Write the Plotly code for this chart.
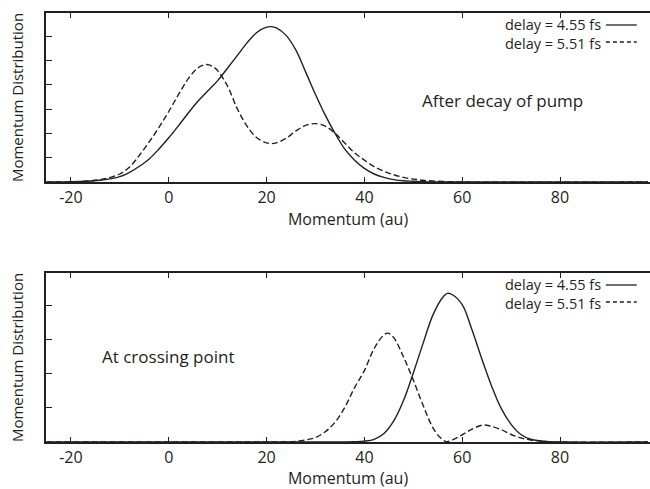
import plotly.graph_objects as go
from plotly.subplots import make_subplots

# ---- data ----
x_top_a = [-25, -22, -20, -18, -16, -14, -12, -10, -8, -6, -4, -2, 0, 2, 4, 6, 8, 10, 12, 14, 16, 18, 20, 21, 22, 24, 26, 28, 30, 32, 34, 36, 38, 40, 42, 44, 46, 48, 50, 52, 55, 60, 98]
y_top_a = [0, 0.005, 0.01, 0.02, 0.04, 0.07, 0.13, 0.22, 0.4, 0.65, 0.95, 1.36, 1.82, 2.32, 2.84, 3.33, 3.75, 4.17, 4.68, 5.2, 5.72, 6.15, 6.37, 6.39, 6.34, 6.03, 5.42, 4.52, 3.6, 2.75, 2.0, 1.35, 0.9, 0.56, 0.33, 0.19, 0.1, 0.05, 0.03, 0.01, 0, 0, 0]

x_top_b = [-25, -22, -20, -18, -16, -14, -12, -10, -8, -6, -4, -2, 0, 2, 4, 6, 7.7, 9, 10, 12, 14, 16, 18, 20, 21, 22, 24, 26, 28, 30, 32, 34, 36, 38, 40, 42, 44, 46, 48, 50, 52, 55, 58, 60, 98]
y_top_b = [0, 0.005, 0.01, 0.02, 0.05, 0.1, 0.19, 0.33, 0.62, 1.1, 1.65, 2.25, 2.9, 3.6, 4.25, 4.7, 4.83, 4.75, 4.58, 3.95, 3.02, 2.3, 1.82, 1.61, 1.58, 1.61, 1.8, 2.1, 2.33, 2.4, 2.3, 2.0, 1.6, 1.2, 0.9, 0.63, 0.44, 0.3, 0.19, 0.12, 0.07, 0.03, 0.01, 0, 0]

x_bot_a = [-25, 34, 36, 38, 40, 42, 44, 46, 48, 50, 52, 54, 56, 57, 58, 60, 62, 64, 66, 68, 70, 72, 74, 76, 78, 80, 98]
y_bot_a = [0, 0, 0.002, 0.008, 0.025, 0.08, 0.25, 0.62, 1.22, 2.03, 2.9, 3.73, 4.25, 4.37, 4.33, 4.04, 3.3, 2.45, 1.65, 0.98, 0.52, 0.22, 0.08, 0.03, 0.01, 0, 0]

x_bot_b = [-25, 18, 20, 22, 24, 26, 28, 30, 32, 34, 36, 38, 40, 42, 44, 44.8, 46, 48, 50, 52, 54, 55.5, 56.8, 58, 60, 62, 64.3, 66, 68, 70, 72, 74, 76, 78, 80, 98]
y_bot_b = [0, 0, 0.002, 0.005, 0.01, 0.02, 0.06, 0.13, 0.3, 0.58, 1.02, 1.6, 2.1, 2.75, 3.15, 3.2, 3.07, 2.5, 1.82, 1.08, 0.42, 0.13, 0.01, 0.06, 0.21, 0.38, 0.5, 0.46, 0.36, 0.22, 0.12, 0.06, 0.03, 0.01, 0, 0]

series_names = ["delay = 4.55 fs", "delay = 5.51 fs"]
panel_labels = ["After decay of pump", "At crossing point"]
x_ticks = [-20, 0, 20, 40, 60, 80]
x_tick_text = ["-20", "0", "20", "40", "60", "80"]
y_ticks_top = [1, 2, 3, 4, 5, 6]
y_ticks_bot = [1, 2, 3, 4]

INK = "#231f20"
FONT = "Open Sans"

fig = make_subplots(rows=2, cols=1, vertical_spacing=0.0)

def add_pair(xa, ya, xb, yb, row):
    fig.add_trace(go.Scatter(x=xa, y=ya, mode="lines", name=series_names[0],
                             line=dict(color=INK, width=1.4, shape="spline", smoothing=1.0),
                             showlegend=False), row=row, col=1)
    fig.add_trace(go.Scatter(x=xb, y=yb, mode="lines", name=series_names[1],
                             line=dict(color=INK, width=1.4, dash="6px,3px", shape="spline", smoothing=1.0),
                             showlegend=False), row=row, col=1)

add_pair(x_top_a, y_top_a, x_top_b, y_top_b, 1)
add_pair(x_bot_a, y_bot_a, x_bot_b, y_bot_b, 2)

xcommon = dict(range=[-25.1, 98.4], tickvals=x_ticks, ticktext=x_tick_text, ticks="inside", ticklen=5,
               tickwidth=1.3, tickcolor=INK, showline=True, linecolor=INK, linewidth=2,
               mirror="ticks", showgrid=False, zeroline=False,
               tickfont=dict(family=FONT, size=16, color=INK),
               title=dict(text="Momentum (au)", font=dict(family=FONT, size=16, color=INK), standoff=5))
ycommon = dict(ticks="inside", ticklen=6, tickwidth=1.3, tickcolor=INK, showline=True,
               linecolor=INK, linewidth=2, mirror=False, showgrid=False, zeroline=False,
               showticklabels=False,
               title=dict(text="Momentum Distribution", font=dict(family=FONT, size=15, color=INK), standoff=17))

fig.update_xaxes(**xcommon)
fig.update_layout(
    xaxis=dict(domain=[0, 1], anchor="y"),
    xaxis2=dict(domain=[0, 1], anchor="y2"),
    yaxis=dict(domain=[0.606, 1.0], range=[0, 6.95], tickvals=y_ticks_top, **ycommon),
    yaxis2=dict(domain=[0.0, 0.394], range=[0, 4.97], tickvals=y_ticks_bot, **ycommon),
)

# legend-like labels (one block per panel) and line samples
def py(px):
    return (442 - px) / 429

for off in (0, 260):
    fig.add_annotation(x=0.923, y=py(33.5 + off), xref="paper", yref="paper",
                       text=series_names[0] + "<br>" + series_names[1], align="right",
                       showarrow=False, xanchor="right", yanchor="middle",
                       font=dict(family=FONT, size=14.5, color=INK))
    for k, ly in enumerate((25 + off, 42 + off)):
        fig.add_shape(type="line", xref="paper", yref="paper", x0=0.927, x1=0.978,
                      y0=py(ly), y1=py(ly),
                      line=dict(color=INK, width=1.3, dash="solid" if k == 0 else "4px,3px"))

fig.add_annotation(x=(502.5 - 46) / 604, y=py(100), xref="paper", yref="paper", text=panel_labels[0],
                   showarrow=False, xanchor="center", yanchor="middle",
                   font=dict(family=FONT, size=17, color=INK))
fig.add_annotation(x=(168.8 - 46) / 604, y=py(356), xref="paper", yref="paper", text=panel_labels[1],
                   showarrow=False, xanchor="center", yanchor="middle",
                   font=dict(family=FONT, size=17, color=INK))

fig.update_layout(width=650, height=489, margin=dict(l=46, r=0, t=13, b=47),
                  paper_bgcolor="white", plot_bgcolor="white", showlegend=False)

fig.write_html("out.html")
